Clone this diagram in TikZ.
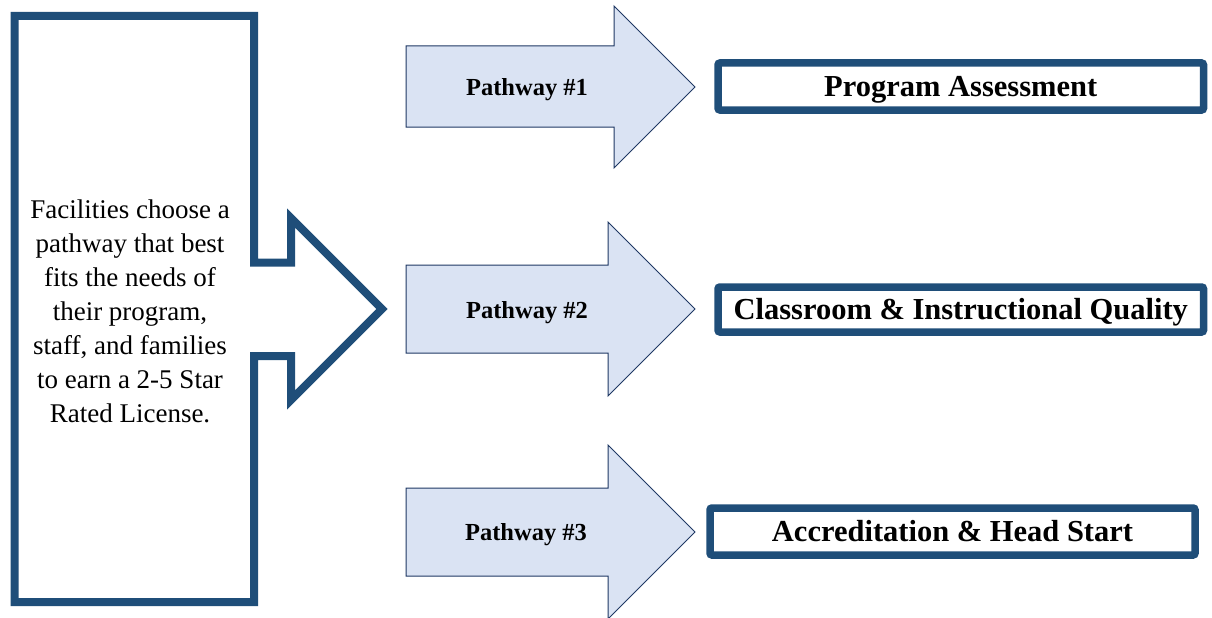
\documentclass[tikz,border=0pt]{standalone}
\usepackage{fontspec}
\setmainfont{Liberation Serif}
\definecolor{frameblue}{RGB}{31,78,121}
\definecolor{arrowfill}{RGB}{218,227,243}
\definecolor{arrowline}{RGB}{31,56,100}
\begin{document}
\begin{tikzpicture}[x=1pt,y=-1pt,
  calloutshape/.style={draw=frameblue,line width=8pt,line join=miter,fill=white},
  patharrow/.style={fill=arrowfill,draw=arrowline,line width=1pt,line join=miter},
  pathlabel/.style={font=\fontsize{24.5}{29}\selectfont\bfseries,inner sep=0pt,
    text height=16.6pt,text depth=0pt},
  goalbox/.style={draw=frameblue,line width=7.5pt,rounded corners=2pt,fill=white,
    inner sep=0pt,font=\fontsize{30.5}{36}\selectfont\bfseries,
    text height=20.6pt,text depth=0pt},
  introtext/.style={align=center,inner sep=0pt,font=\fontsize{27}{34}\selectfont}]
\useasboundingbox (0,0) rectangle (1212,618);

% left callout with its arrow pointing right
\draw[calloutshape] (14.5,16) -- (254,16) -- (254,262.5) -- (291,262.5) -- (291,218)
  -- (382,309) -- (291,400) -- (291,356) -- (254,356) -- (254,602) -- (14.5,602) -- cycle;
\node[introtext] (intro) at (130,311) {Facilities choose a\\pathway that best\\fits the needs of\\their program,\\staff, and families\\to earn a 2-5 Star\\Rated License.};

% the three pathway arrows
\draw[patharrow] (406,46) -- (614,46) -- (614,6) -- (695,87) -- (614,168) -- (614,127) -- (406,127) -- cycle;
\node[pathlabel] (p1) at (527,87.5) {Pathway \#1};

\draw[patharrow] (406,265) -- (608,265) -- (608,222) -- (695,309) -- (608,396) -- (608,353) -- (406,353) -- cycle;
\node[pathlabel] (p2) at (527,310) {Pathway \#2};

\draw[patharrow] (406,488) -- (608,488) -- (608,445) -- (695,532) -- (608,619) -- (608,576) -- (406,576) -- cycle;
\node[pathlabel] (p3) at (526,532) {Pathway \#3};

% outcome boxes
\node[goalbox,minimum width=485.5pt,minimum height=47pt] (g1) at (960.75,86.5) {Program Assessment};
\node[goalbox,minimum width=485.5pt,minimum height=45pt] (g2) at (960.75,309.5) {Classroom \& Instructional Quality};
\node[goalbox,minimum width=485pt,minimum height=47pt] (g3) at (952.5,531.5) {Accreditation \& Head Start};
\end{tikzpicture}
\end{document}
